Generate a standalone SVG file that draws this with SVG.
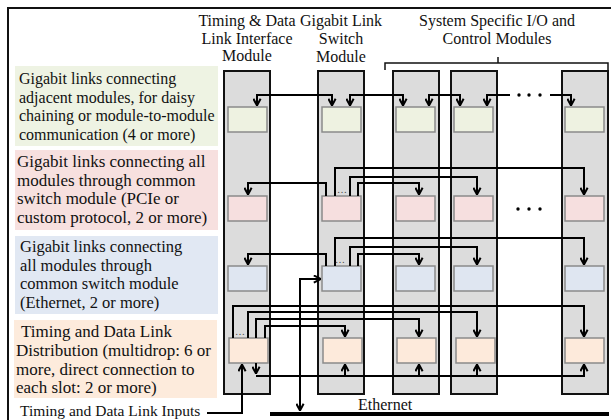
<svg xmlns="http://www.w3.org/2000/svg" width="611" height="420" viewBox="0 0 611 420">
<defs>
<marker id="ah" viewBox="0 0 10 10" refX="9.5" refY="5" markerWidth="9" markerHeight="9" markerUnits="userSpaceOnUse" orient="auto-start-reverse">
<path d="M1.5,1 L9,5 L1.5,9" fill="none" stroke="#000" stroke-width="2.2"/>
</marker>
</defs>
<style>
text{font-family:"Liberation Serif","Times New Roman",serif;font-size:16px;fill:#111}
.f17{font-size:17px}
.f165{font-size:16.5px}
.col{fill:#dcdcdc;stroke:#111;stroke-width:2}
.bx{stroke:#8a8a8a;stroke-width:1.5}
.g{fill:#eef2e1}.p{fill:#f6dfdf}.b{fill:#dfe6f1}.o{fill:#fdeadb}
.c path{fill:none;stroke:#000;stroke-width:2}
.ar{marker-end:url(#ah)}
.ar2{marker-start:url(#ah);marker-end:url(#ah)}
.dots{font-size:10px;fill:#444}
.hd{text-anchor:middle}
</style>
<rect x="0" y="0" width="611" height="420" fill="#fff"/>
<path d="M8,420 V8 H611" fill="none" stroke="#111" stroke-width="2"/>

<g id="label-green"><rect x="15" y="66" width="203" height="80" fill="#eef3e3"/>
<text x="19" y="84">Gigabit links connecting</text><text x="19" y="103">adjacent modules, for daisy</text><text x="19" y="121">chaining or module-to-module</text><text x="19" y="140">communication (4 or more)</text></g>
<g id="label-pink" class="f17"><rect x="15" y="150" width="203" height="80" fill="#f7e0df"/>
<text class="f17" x="17" y="167">Gigabit links connecting all</text><text class="f17" x="17" y="186">modules through common</text><text class="f17" x="17" y="204">switch module (PCIe or</text><text class="f17" x="17" y="223">custom protocol, 2 or more)</text></g>
<g id="label-blue"><rect x="15" y="236" width="203" height="78" fill="#e1e8f3"/>
<text class="f165" x="20" y="252">Gigabit links connecting</text><text class="f165" x="20" y="271">all modules through</text><text class="f165" x="20" y="289">common switch module</text><text class="f165" x="20" y="308">(Ethernet, 2 or more)</text></g>
<g id="label-orange"><rect x="14" y="320" width="203" height="78" fill="#fdebdc"/>
<text class="f17" x="21" y="337">Timing and Data Link</text><text class="f17" x="16" y="356">Distribution (multidrop: 6 or</text><text class="f17" x="16" y="375">more,  direct connection to</text><text class="f17" x="16" y="393">each slot: 2 or more)</text></g>
<g id="label-inputs"><text x="20" y="416" style="font-size:15.5px">Timing and Data Link Inputs</text></g>

<g id="headers">
<text class="hd" x="247" y="26">Timing &amp; Data</text><text class="hd" x="247" y="44">Link Interface</text><text class="hd" x="247" y="61">Module</text>
<text class="hd" x="341" y="26">Gigabit Link</text><text class="hd" x="341" y="44">Switch</text><text class="hd" x="341" y="62">Module</text>
<text class="hd" x="497" y="26">System Specific I/O and</text><text class="hd" x="497" y="44">Control Modules</text>
<path d="M385,70 V63 H608 V70 M498,63 V57" fill="none" stroke="#111" stroke-width="1.5"/>
</g>

<g id="mod-timing"><rect class="col" x="224" y="71" width="46" height="323"/>
<rect class="bx g" x="228" y="107" width="39" height="25"/><rect class="bx p" x="228" y="196" width="39" height="25"/><rect class="bx b" x="228" y="266" width="39" height="25"/><rect class="bx o" x="229" y="338" width="39" height="25"/></g>
<g id="mod-switch"><rect class="col" x="318" y="71" width="46" height="323"/>
<rect class="bx g" x="322" y="107" width="39" height="25"/><rect class="bx p" x="322" y="196" width="39" height="25"/><rect class="bx b" x="322" y="266" width="39" height="25"/><rect class="bx o" x="323" y="338" width="39" height="25"/></g>
<g id="mod-io1"><rect class="col" x="393" y="71" width="46" height="323"/>
<rect class="bx g" x="396" y="107" width="39" height="25"/><rect class="bx p" x="396" y="196" width="39" height="25"/><rect class="bx b" x="396" y="266" width="39" height="25"/><rect class="bx o" x="397" y="338" width="39" height="25"/></g>
<g id="mod-io2"><rect class="col" x="451" y="71" width="46" height="323"/>
<rect class="bx g" x="454" y="107" width="39" height="25"/><rect class="bx p" x="454" y="196" width="39" height="25"/><rect class="bx b" x="454" y="266" width="39" height="25"/><rect class="bx o" x="456" y="338" width="39" height="25"/></g>
<g id="mod-ion"><rect class="col" x="562" y="71" width="46" height="323"/>
<rect class="bx g" x="565" y="107" width="39" height="25"/><rect class="bx p" x="565" y="196" width="39" height="25"/><rect class="bx b" x="565" y="266" width="39" height="25"/><rect class="bx o" x="565" y="338" width="39" height="25"/></g>

<g id="connectors" class="c">
<path class="ar2" d="M257,106 V95 H332 V106"/>
<path class="ar2" d="M350,106 V95 H403 V106"/>
<path class="ar2" d="M429,106 V95 H460 V106"/>
<path style="marker-start:url(#ah)" d="M487,106 V95 H510"/>
<path class="ar" d="M550,95 H571 V106"/>

<path class="ar" d="M326,196 V183 H248 V195"/>
<path class="ar" d="M335,196 V168 H584 V195"/>
<path class="ar" d="M350,196 V177 H477 V195"/>
<path class="ar" d="M358,196 V183 H419 V195"/>

<path class="ar" d="M326,266 V254 H248 V265"/>
<path class="ar" d="M335,266 V238 H584 V265"/>
<path class="ar" d="M350,266 V247 H477 V265"/>
<path class="ar" d="M358,266 V254 H419 V265"/>
<path class="ar2" d="M321,279 H300 V411"/>

<path class="ar" d="M233,338 V306 H584 V337"/>
<path class="ar" d="M248,338 V312 H477 V337"/>
<path class="ar" d="M256,338 V319 H419 V337"/>
<path class="ar" d="M265,338 V326 H345 V337"/>
<path class="ar" d="M256,363 V374"/>
<path class="ar" d="M256,376 H584 V364"/>
<path class="ar" d="M345,376 V364"/>
<path class="ar" d="M419,376 V364"/>
<path class="ar" d="M477,376 V364"/>
<path class="ar" d="M207,413 H242 V364"/>
<path d="M270,414 H609" style="stroke-width:4"/>
</g>
<g id="dots" fill="#000">
<circle cx="519" cy="95" r="1.7"/><circle cx="529" cy="95" r="1.7"/><circle cx="540" cy="95" r="1.7"/>
<circle cx="518" cy="209" r="1.7"/><circle cx="529" cy="209" r="1.7"/><circle cx="540" cy="209" r="1.7"/>
</g>
<text class="dots" x="337" y="193">…</text>
<text class="dots" x="335" y="263">…</text>
<text class="dots" x="235" y="335">…</text>
<text id="ethernet-label" x="358" y="410">Ethernet</text>
</svg>
